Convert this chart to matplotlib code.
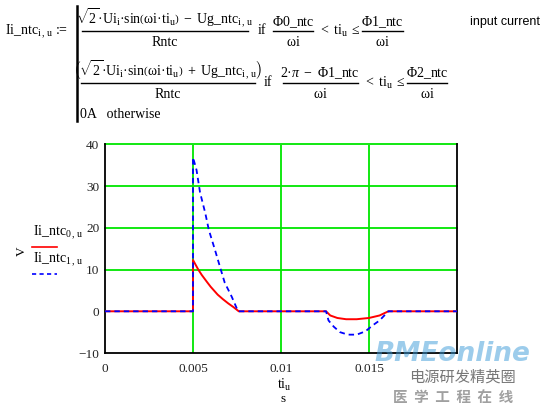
import matplotlib
matplotlib.use("Agg")
import matplotlib.pyplot as plt
from matplotlib.lines import Line2D

plt.rcParams['mathtext.fontset'] = 'custom'
plt.rcParams['mathtext.rm'] = 'Liberation Serif'
plt.rcParams['mathtext.it'] = 'Liberation Serif:italic'
plt.rcParams['mathtext.bf'] = 'Liberation Serif:bold'

# ---- data ----
t_ntc0 = [0, 0.005, 0.005, 0.0053, 0.0055, 0.0058, 0.0060, 0.0064, 0.0067, 0.0070,
          0.0073, 0.0076, 0.01256, 0.0128, 0.0132, 0.0137, 0.0143, 0.0150, 0.0156, 0.0161, 0.02]
ii_ntc0 = [0, 0, 12.3, 10.0, 8.7, 7.0, 5.9, 4.0, 2.9, 1.9,
           1.0, 0, 0, -1.0, -1.6, -1.9, -1.9, -1.6, -1.0, 0, 0]
t_ntc1 = [0, 0.005, 0.005, 0.0052, 0.0054, 0.0057, 0.0059, 0.00625, 0.00653, 0.0068,
          0.0072, 0.00756, 0.01256, 0.0127, 0.0130, 0.01335, 0.0138, 0.0143, 0.0148,
          0.0152, 0.0156, 0.0161, 0.02]
ii_ntc1 = [0, 0, 36.9, 33.9, 28.5, 23.5, 19.5, 14.7, 10.7, 6.9,
           3.5, 0, 0, -2.2, -3.7, -5.0, -5.6, -5.6, -4.8,
           -3.4, -2.2, 0, 0]
xticks = [0, 0.005, 0.01, 0.015]
xticklabels = ['0', '0.005', '0.01', '0.015']
yticks = [-10, 0, 10, 20, 30, 40]

W, H = 542, 405
fig = plt.figure(figsize=(W / 100, H / 100), dpi=100)

def px(x, y):
    return x / W, 1 - y / H

SERIF = 'Liberation Serif'
GREEN = '#00e600'

ax = fig.add_axes([105 / W, 1 - 353 / H, 352 / W, (353 - 144.5) / H])
ax.set_xlim(0, 0.02)
ax.set_ylim(-10, 40)
for x in [0.005, 0.01, 0.015]:
    ax.axvline(x, color=GREEN, lw=1.3, zorder=1)
for y in [10, 20, 30, 40]:
    ax.axhline(y, color=GREEN, lw=1.3, zorder=1, clip_on=False)
ax.plot(t_ntc0, ii_ntc0, color='#ff0000', lw=1.4, zorder=3)
ax.plot(t_ntc1, ii_ntc1, color='#0000ff', lw=1.3, ls=(0, (3, 2.2)), zorder=4)
ax.set_xticks(xticks)
ax.set_xticklabels(xticklabels)
ax.set_yticks(yticks)
ax.tick_params(length=0, labelsize=9.5, colors='#222222')
ax.tick_params(axis='x', pad=7)
ax.tick_params(axis='y', pad=4)
for lab in ax.get_xticklabels() + ax.get_yticklabels():
    lab.set_family(SERIF)
for s in ['left', 'bottom', 'right']:
    ax.spines[s].set_color('black')
    ax.spines[s].set_linewidth(1.3)
ax.spines['top'].set_visible(False)

# axis labels
fig.text(*px(284, 385), r'$\mathrm{ti}_{\mathrm{u}}$', ha='center', va='center', fontsize=10)
fig.text(*px(283, 399), 's', ha='center', va='center', fontsize=9.5, family=SERIF)
fig.text(*px(22, 251), 'V', ha='center', va='center', fontsize=9.5, family=SERIF, rotation=90)

# legend
fig.text(*px(33, 233), r'$\mathrm{Ii\_ntc}_{0\,,\,\mathrm{u}}$', ha='left', va='center', fontsize=10)
fig.add_artist(Line2D([32 / W, 57 / W], [1 - 247 / H, 1 - 247 / H], color='#ff0000', lw=1.2))
fig.text(*px(33, 260), r'$\mathrm{Ii\_ntc}_{1\,,\,\mathrm{u}}$', ha='left', va='center', fontsize=10)
fig.add_artist(Line2D([32 / W, 57 / W], [1 - 274 / H, 1 - 274 / H], color='#0000ff', lw=1.2,
                      ls=(0, (2.5, 2))))

# ---- formula ----
FS = 10
def t(x, y, s, ha='left', fs=FS, **kw):
    fig.text(*px(x, y), s, ha=ha, va='center', fontsize=fs, **kw)

def hline(x0, x1, y, lw=1.0):
    fig.add_artist(Line2D([x0 / W, x1 / W], [1 - y / H, 1 - y / H], color='black', lw=lw))

t(5, 32, r'$\mathrm{Ii\_ntc}_{\mathrm{i\,,\,u}}$ :=', family=SERIF)
fig.add_artist(Line2D([77 / W, 77 / W], [1 - 6 / H, 1 - 121 / H], color='black', lw=1.8))

num1 = r'$\sqrt{2}\mathrm{·Ui}_{\mathrm{i}}\mathrm{·sin}\left(\mathrm{\omega i·ti}_{\mathrm{u}}\right)\ -\ \mathrm{Ug\_ntc}_{\mathrm{i\,,\,u}}$'
num2 = r'$\left(\sqrt{2}\mathrm{·Ui}_{\mathrm{i}}\mathrm{·sin}\left(\mathrm{\omega i·ti}_{\mathrm{u}}\right)\ +\ \mathrm{Ug\_ntc}_{\mathrm{i\,,\,u}}\right)$'

# row 1
t(165, 18, num1, ha='center')
hline(82, 248, 31)
t(165, 42, 'Rntc', ha='center', family=SERIF)
t(258, 31, 'if', family=SERIF)
t(293, 22, r'$\mathrm{\Phi 0\_ntc}$', ha='center')
hline(273, 313, 31)
t(293, 42, r'$\mathrm{\omega i}$', ha='center')
t(318, 31, r'$<\ \mathrm{ti}_{\mathrm{u}}\ \leq$')
t(382, 22, r'$\mathrm{\Phi 1\_ntc}$', ha='center')
hline(362, 403, 31)
t(382, 42, r'$\mathrm{\omega i}$', ha='center')
t(540, 22, 'input current', ha='right', fs=9, family='Liberation Sans')

# row 2
t(168, 70, num2, ha='center')
hline(81, 255, 83)
t(168, 95, 'Rntc', ha='center', family=SERIF)
t(264, 83, 'if', family=SERIF)
t(320, 73, r'$2\mathrm{·}\pi\ -\ \mathrm{\Phi 1\_ntc}$', ha='center')
hline(283, 358, 83)
t(320, 94, r'$\mathrm{\omega i}$', ha='center')
t(363, 83, r'$<\ \mathrm{ti}_{\mathrm{u}}\ \leq$')
t(427, 73, r'$\mathrm{\Phi 2\_ntc}$', ha='center')
hline(407, 447, 83)
t(427, 94, r'$\mathrm{\omega i}$', ha='center')

# row 3
t(80, 114, '0A   otherwise', family=SERIF)

# watermark
fig.text(*px(452, 354), 'BMEonline', ha='center', va='center', fontsize=19, fontweight='bold',
         style='italic', color='#3a9ad9', alpha=0.5, family='DejaVu Sans')
fig.text(*px(462, 377), '电源研发精英圈', ha='center', va='center', fontsize=11,
         color='#555555', alpha=0.8, family=['Noto Sans CJK SC', 'DejaVu Sans'])
fig.text(*px(453, 397), '医  学  工  程  在  线', ha='center', va='center', fontsize=10.5,
         fontweight='bold', color='#888888', alpha=0.8, family=['Noto Sans CJK SC', 'DejaVu Sans'])

fig.savefig('out.png', dpi=100)
